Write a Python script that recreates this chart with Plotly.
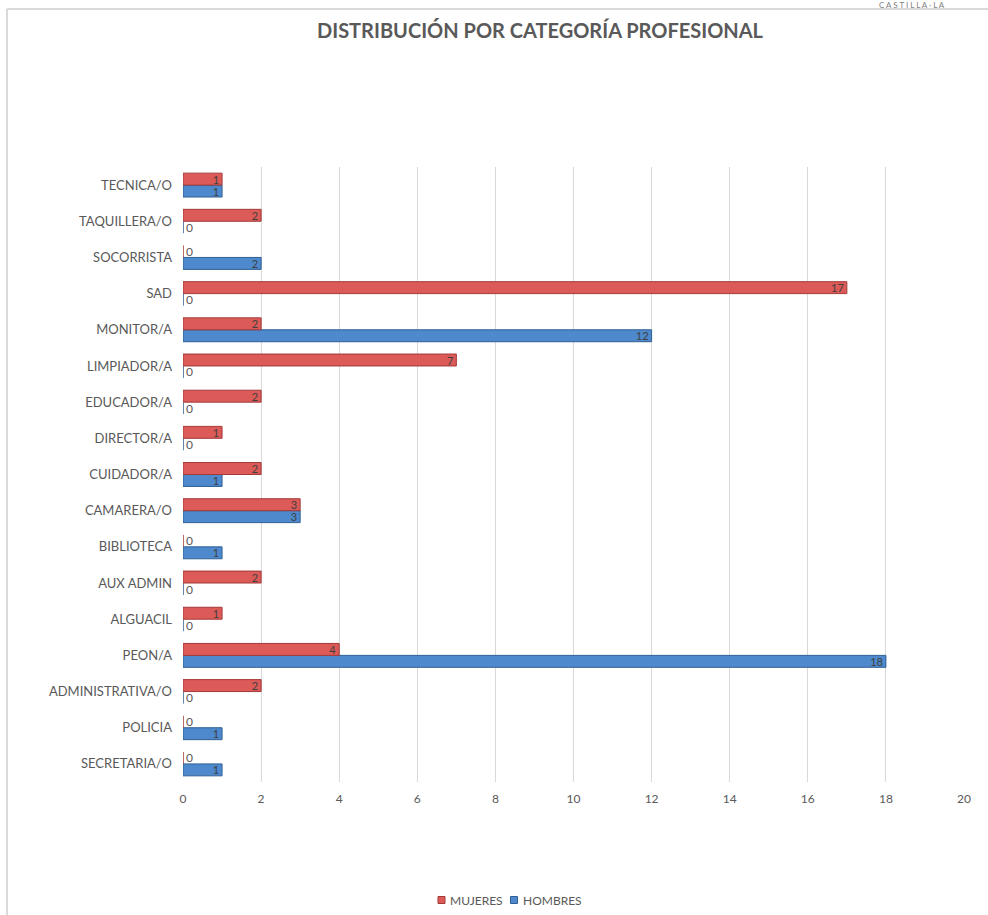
import plotly.graph_objects as go

categories = ["SECRETARIA/O", "POLICIA", "ADMINISTRATIVA/O", "PEON/A", "ALGUACIL",
              "AUX ADMIN", "BIBLIOTECA", "CAMARERA/O", "CUIDADOR/A", "DIRECTOR/A",
              "EDUCADOR/A", "LIMPIADOR/A", "MONITOR/A", "SAD", "SOCORRISTA",
              "TAQUILLERA/O", "TECNICA/O"]
mujeres = [0, 0, 2, 4, 1, 2, 0, 3, 2, 1, 2, 7, 2, 17, 0, 2, 1]
hombres = [1, 1, 0, 18, 0, 0, 1, 3, 1, 0, 0, 0, 12, 0, 2, 0, 1]
x_ticks = [0, 2, 4, 6, 8, 10, 12, 14, 16, 18, 20]
series_names = ["MUJERES", "HOMBRES"]

FONT = "Lato"
W, H = 988, 915
L, R, T, B = 183, 24, 167, 133
pw, ph = W - L - R, H - T - B
RED, RED_LINE = "#dc5a57", "#a33a38"
BLUE, BLUE_LINE = "#4d89cc", "#2f5f94"


def px_to_paper_x(px):
    return (px - L) / pw


def px_to_paper_y(py):
    return (H - B - py) / ph


def bar_trace(name, vals, color, line):
    return go.Bar(
        name=name, y=categories, x=vals, orientation="h",
        marker=dict(color=color, line=dict(color=line, width=1)),
        text=[str(v) for v in vals],
        textposition=["inside" if v > 0 else "outside" for v in vals],
        insidetextanchor="end",
        textangle=0,
        constraintext="none",
        cliponaxis=False,
        textfont=dict(family=FONT, size=11, color="#404040"),
        outsidetextfont=dict(family=FONT, size=12, color="#595959"),
        hoverinfo="x+y+name",
        showlegend=False,
    )


fig = go.Figure()
fig.add_trace(bar_trace(series_names[1], hombres, BLUE, BLUE_LINE))
fig.add_trace(bar_trace(series_names[0], mujeres, RED, RED_LINE))

fig.update_layout(
    width=W, height=H,
    margin=dict(l=L, r=R, t=T, b=B, autoexpand=False),
    paper_bgcolor="white", plot_bgcolor="white",
    barmode="group", bargap=0.34, bargroupgap=0,
    font=dict(family=FONT, color="#595959", size=12),
    title=dict(text="<b>DISTRIBUCIÓN POR CATEGORÍA PROFESIONAL</b>",
               x=px_to_paper_x(540), xref="paper", xanchor="center",
               y=1 - 31 / H, yref="container", yanchor="middle",
               font=dict(family=FONT, size=20, color="#595959")),
    xaxis=dict(range=[0, 20], tickvals=x_ticks, showgrid=True,
               gridcolor="#d9d9d9", gridwidth=1, zeroline=False,
               showline=False, tickfont=dict(size=12, color="#595959"),
               ticks="outside", ticklen=6, tickcolor="rgba(0,0,0,0)",
               automargin=False),
    yaxis=dict(categoryorder="array", categoryarray=categories,
               showgrid=False, zeroline=False, showline=False,
               ticklabelstandoff=10, automargin=False,
               tickfont=dict(size=13, color="#595959")),
    showlegend=False,
)

# Custom compact legend (small squares + labels)
legend_items = [(series_names[0], RED, RED_LINE, 441.5, 448),
                (series_names[1], BLUE, BLUE_LINE, 514, 521)]
ly = 900
for name, col, lcol, mx, tx in legend_items:
    fig.add_shape(type="rect", xref="paper", yref="paper",
                  x0=px_to_paper_x(mx - 3.5), x1=px_to_paper_x(mx + 3.5),
                  y0=px_to_paper_y(ly + 3.5), y1=px_to_paper_y(ly - 3.5),
                  fillcolor=col, line=dict(color=lcol, width=1))
    fig.add_annotation(text=name, xref="paper", yref="paper",
                       x=px_to_paper_x(tx), y=px_to_paper_y(ly),
                       xanchor="left", yanchor="middle", showarrow=False,
                       font=dict(family=FONT, size=12, color="#595959"))

# Chart frame (top and left borders)
x_left = px_to_paper_x(7)
y_top = px_to_paper_y(9)
fig.add_shape(type="line", xref="paper", yref="paper",
              x0=x_left, x1=px_to_paper_x(W), y0=y_top, y1=y_top,
              line=dict(color="#d9d9d9", width=2))
fig.add_shape(type="line", xref="paper", yref="paper",
              x0=x_left, x1=x_left, y0=y_top, y1=px_to_paper_y(H),
              line=dict(color="#d9d9d9", width=2))

# Header text at the top right
fig.add_annotation(text="C A S T I L L A · L A", xref="paper", yref="paper",
                   x=px_to_paper_x(912), y=px_to_paper_y(4.5), xanchor="center",
                   yanchor="middle", showarrow=False,
                   font=dict(family=FONT, size=8, color="#7f7f7f"))

fig.write_html("out.html")
